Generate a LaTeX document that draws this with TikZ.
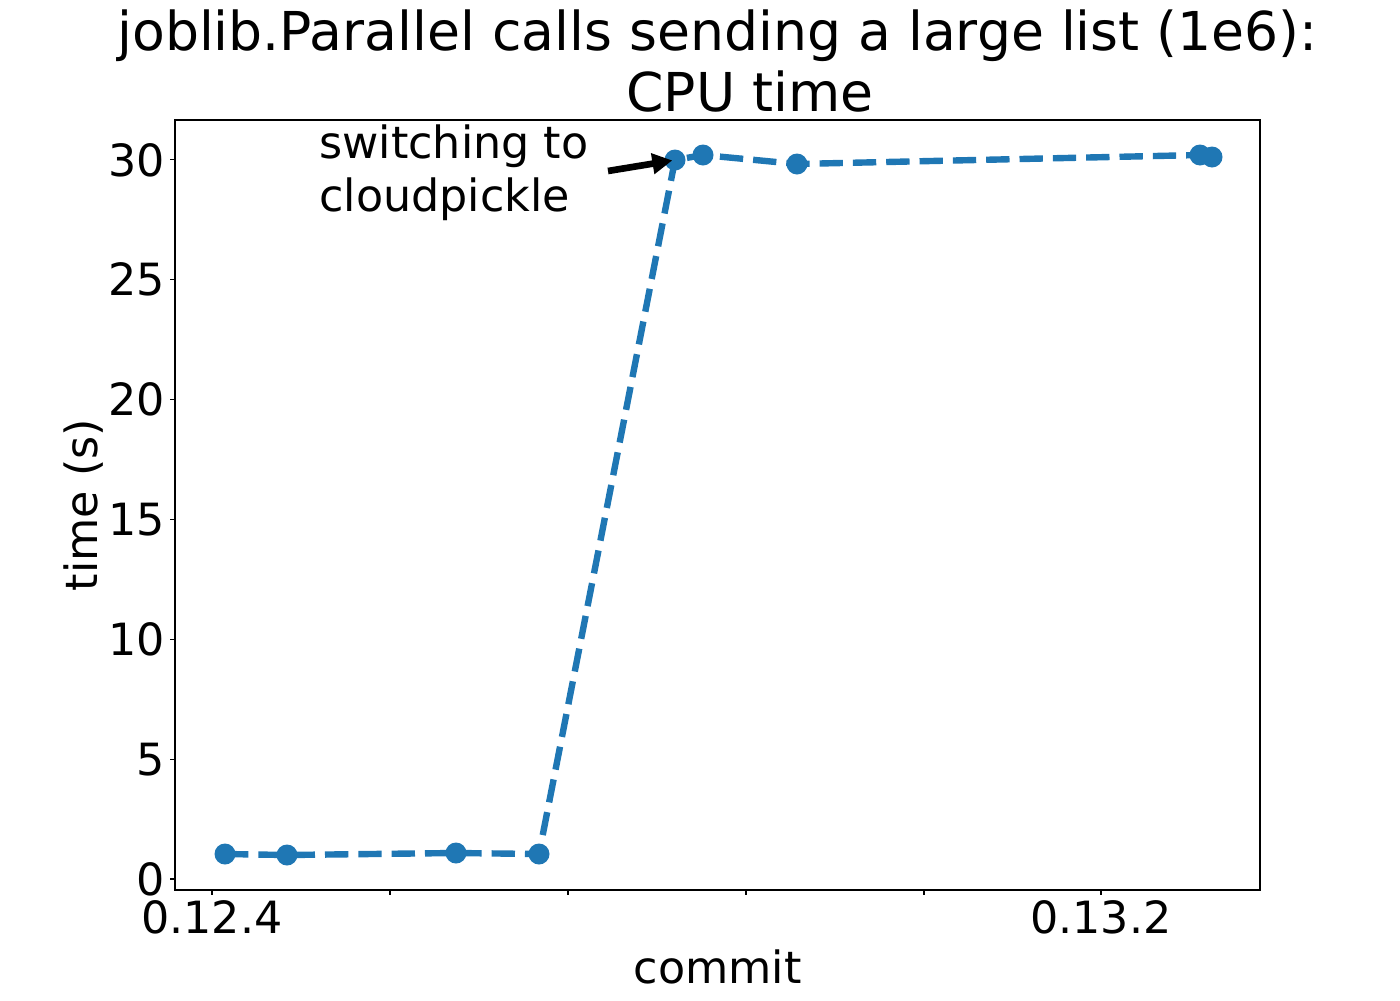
\documentclass[tikz,border=0pt]{standalone}
\usepackage{fontspec}
\setmainfont{DejaVu Sans}
\usetikzlibrary{arrows.meta, positioning, calc}

\definecolor{lineblue}{RGB}{31,119,180}

\tikzset{
  plotline/.style={draw=lineblue, line width=4.8pt, dash pattern=on 17.5pt off 7.5pt},
  marker/.style={fill=lineblue},
  ticklabel/.style={inner sep=0pt, font=\fontsize{33.3}{40}\selectfont},
  axlabel/.style={inner sep=0pt, font=\fontsize{33.3}{40}\selectfont},
  titletext/.style={inner sep=0pt, font=\fontsize{40.2}{48}\selectfont},
}

\begin{document}
\begin{tikzpicture}[x=0.75pt,y=0.75pt,yscale=-1,xscale=1]
			\useasboundingbox (0,0) rectangle (1400,1000);
			
			%Shape: Rectangle [id:axes] 
			\draw  [line width=0.8pt] (175,120) rectangle (1260,890) ;
			
			%Straight Lines [id:yticks] 
			\foreach \v in {0,5,...,30}{
				\draw  [line width=0.8pt] (175,{879-23.97*\v}) -- (170,{879-23.97*\v}) node [ticklabel,anchor=east,xshift=-3.7pt] (ytick\v) {\v} ;
			}
			%Straight Lines [id:xticks] 
			\foreach \x in {212,390,568,746,924,1101}{
				\draw  [line width=0.8pt] (\x,890) -- (\x,895) ;
			}
			
			% Text Node
			\node [ticklabel,anchor=base] (xlow) at (212,933) {0.12.4};
			% Text Node
			\node [ticklabel,anchor=base] (xhigh) at (1101,933) {0.13.2};
			% Text Node
			\node [axlabel,anchor=base] (xlabel) at (717.5,983) {commit};
			% Text Node
			\node [axlabel,anchor=base,rotate=90] (ylabel) at (97,505) {time (s)};
			% Text Node
			\node [titletext,anchor=base] (title1) at (717.5,50) {joblib.Parallel calls sending a large list (1e6):};
			% Text Node
			\node [titletext,anchor=base] (title2) at (750,111) {CPU time};
			
			%Data points
			\foreach \px/\py [count=\i] in {225/854,287/855,456/853,539/854,675/160,703/155,797/164,1200/155,1212/157}{
				\coordinate (p\i) at (\px,\py) ;
			}
			%Straight Lines [id:curve] 
			\draw  [plotline] (p1) -- (p2) -- (p3) -- (p4) -- (p5) -- (p6) -- (p7) -- (p8) -- (p9) ;
			%Shape: Circle [id:markers] 
			\foreach \i in {1,...,9}{
				\fill  [marker] (p\i) circle (10.5) ;
			}
			
			% Text Node
			\node [axlabel,anchor=north west,align=left] (note) at (319,124) {switching to\\cloudpickle};
			\coordinate (tail) at (608,171) ;
			%Straight Lines [id:annotation] 
			\draw  [line width=5pt,-{Triangle[length=15pt,width=15pt]},shorten >=2pt] (tail) -- (p5) ;
			
		\end{tikzpicture}
\end{document}
